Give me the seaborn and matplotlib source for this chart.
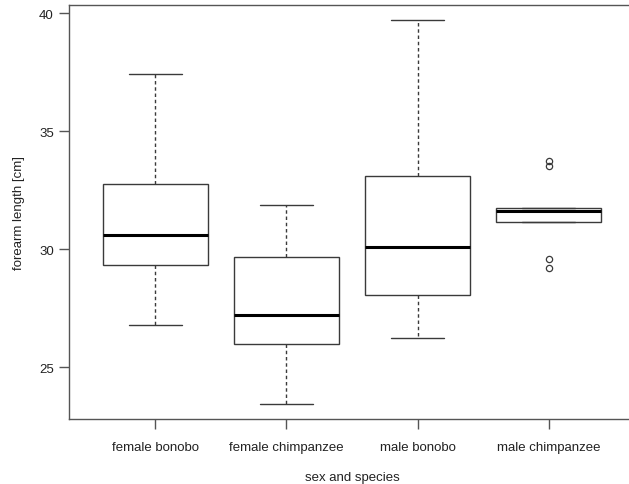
import pandas as pd
import seaborn as sns
import matplotlib.pyplot as plt

# groups and values (whisker ends, quartiles, median, outliers)
groups = ['female bonobo', 'female chimpanzee', 'male bonobo', 'male chimpanzee']
female_bonobo = [26.80, 29.35, 30.62, 32.78, 37.42]
female_chimp = [23.47, 25.98, 27.21, 29.67, 31.88]
male_bonobo = [26.23, 28.07, 30.11, 33.09, 39.69]
male_chimp = [29.23, 29.59, 31.15, 31.15, 31.61, 31.77, 31.77, 33.53, 33.72]
y_ticks = [25, 30, 35, 40]

rows = []
for g, vals in zip(groups, [female_bonobo, female_chimp, male_bonobo, male_chimp]):
    for v in vals:
        rows.append({'group': g, 'length': v})
df = pd.DataFrame(rows)

sns.set_style('ticks')
plt.rcParams['font.family'] = ['Liberation Sans', 'DejaVu Sans']

fig = plt.figure(figsize=(6.29, 4.85), dpi=100)
ax = fig.add_axes([69/629, 65/485, 566/629, 414/485])

line_col = '#3a3a3a'
sns.boxplot(data=df, x='group', y='length', order=groups, ax=ax,
            width=0.8, color='white', linecolor=line_col, linewidth=1.0,
            whiskerprops=dict(linestyle=(0, (2.5, 2)), color=line_col),
            medianprops=dict(color='black', linewidth=2.2),
            flierprops=dict(marker='o', markersize=4.5, markerfacecolor='none',
                            markeredgecolor=line_col, markeredgewidth=0.9))

# R-style caps: half the box width
for line in ax.lines:
    xd = list(line.get_xdata())
    yd = list(line.get_ydata())
    if len(xd) == 2 and yd[0] == yd[1] and line.get_linestyle() == '-' and abs(xd[1] - xd[0]) < 0.79:
        c = (xd[0] + xd[1]) / 2
        line.set_xdata([c - 0.2, c + 0.2])

ax.set_xlim(0.34 - 1, 4.66 - 1)
ax.set_ylim(22.82, 40.34)
ax.set_yticks(y_ticks)
ax.set_xlabel('sex and species', fontsize=9.5, color='#222222', labelpad=13)
ax.set_ylabel('forearm length [cm]', fontsize=9.5, color='#222222', labelpad=10)
ax.tick_params(axis='both', labelsize=9.5, length=7, width=1, color='#555555',
               labelcolor='#222222', pad=4)
ax.tick_params(axis='x', pad=9)
for s in ax.spines.values():
    s.set_visible(True)
    s.set_color('#555555')
    s.set_linewidth(1.0)

fig.savefig('out.png', dpi=100)
